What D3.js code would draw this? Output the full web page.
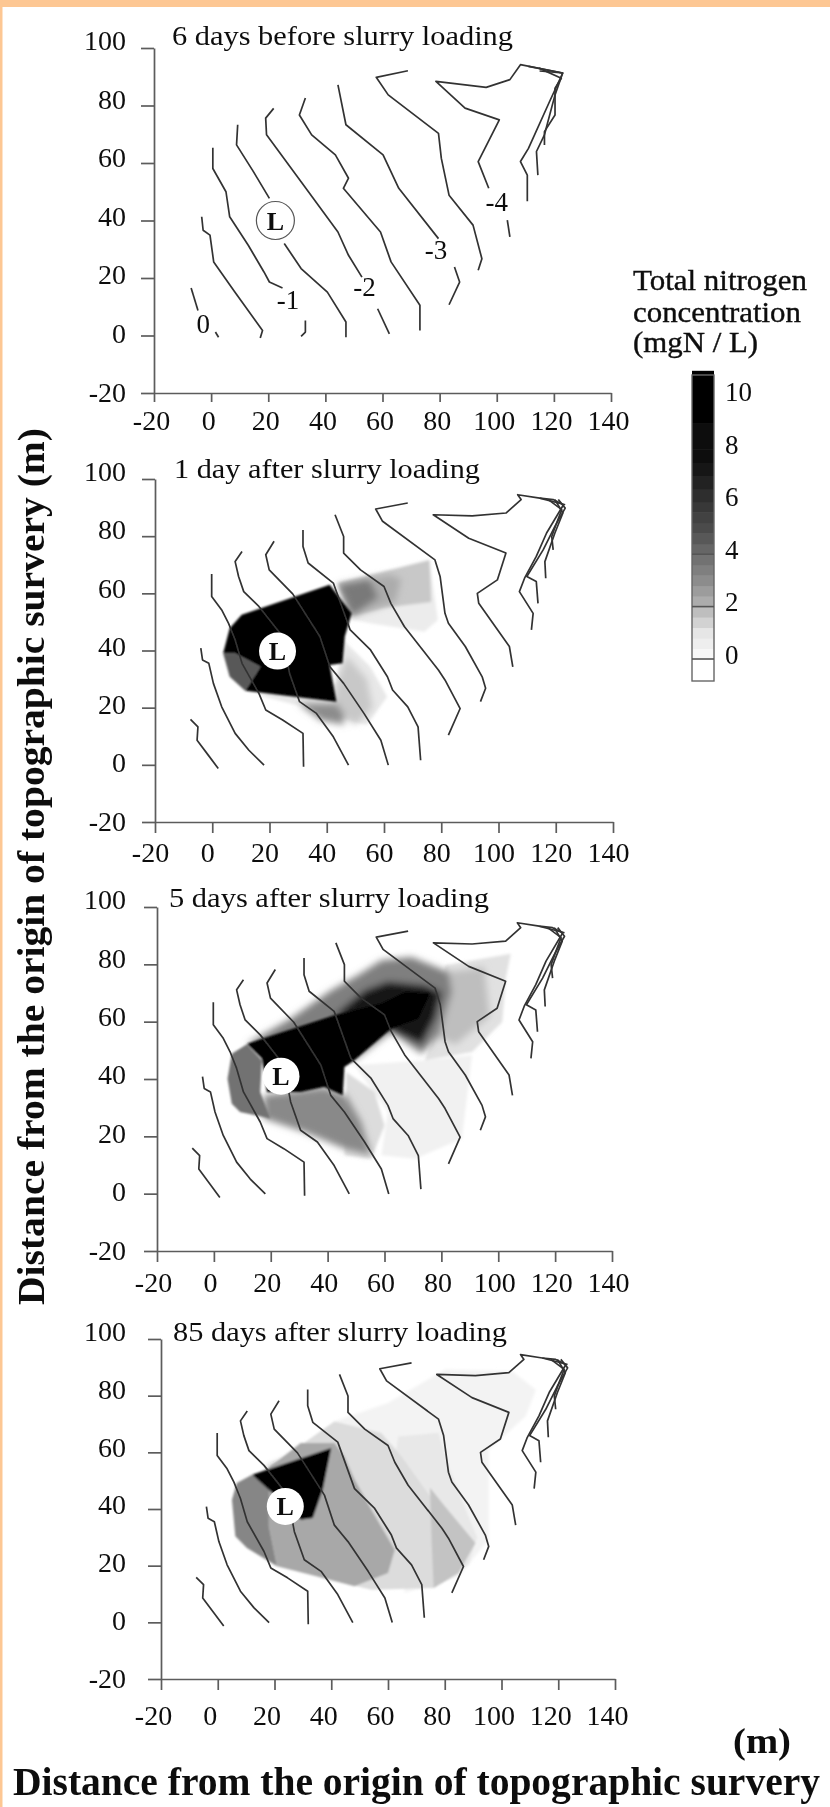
<!DOCTYPE html>
<html><head><meta charset="utf-8">
<script src="https://cdn.jsdelivr.net/npm/d3@7/dist/d3.min.js"></script>
<style>html,body{margin:0;padding:0;background:#fff}svg{display:block}text{font-family:"Liberation Serif",serif;fill:#111}</style>
</head><body><div id="c"></div>
<script>
const xTicks=[-20,0,20,40,60,80,100,120,140];
const yTicks=[-20,0,20,40,60,80,100];
const panelTitles=["6 days before slurry loading","1 day after slurry loading","5 days after slurry loading","85 days after slurry loading"];
const loadingPoint=[[22.5,40],[22.8,39.8],[23.6,41],[23.8,40.9]];
const topLabels=[["0",-2.8,4.1],["-1",26.9,12.2],["-2",53.7,16.9],["-3",78.7,29.7],["-4",100,46.5]];
const legendTitle=["Total nitrogen","concentration","(mgN / L)"];
const legendTicks=[0,2,4,6,8,10];
const legendLines=[0,2,4];
const colorValues=[0,1,2,3,4,5,6,8,10];
const colorGrays=["#fbfbfb","#e6e6e6","#b4b4b4","#8c8c8c","#6c6c6c","#4c4c4c","#333333","#0a0a0a","#000000"];
const legendSteps=[-1.6,0,0.4,0.8,1.2,1.6,2,2.4,2.8,3.2,3.6,4,4.4,4.8,5.2,5.6,6,6.5,7,7.5,8,9,10,11];

const contoursBefore=[
[[-7,16.5],[-4.6,8.7]],
[[1.5,1.2],[2.6,-0.6]],
[[-3.3,41.3],[-2.8,36.6],[-0.4,34.9],[0.9,25.6],[8.3,15.1],[18,1.7],[17.2,-0.9]],
[[0.6,65.3],[0.6,58.1],[5.2,50],[6.5,41.3],[13,31.4],[18.5,22.1],[20.4,18.6],[25,16.5]],
[[33,5.2],[33,1.2],[31.5,-0.3]],
[[9.3,73.3],[8.9,66.3],[14.8,57],[20.4,47.7]],
[[25.6,32],[31.5,23.3],[40.7,15.1],[47.2,4.7],[47.2,-0.6]],
[[21.9,79],[19.1,75.6],[19.4,69.8],[31.5,53.5],[44.4,36],[48.1,27.9],[52.8,20.3]],
[[58.3,9.3],[62.4,0.6]],
[[33,82.6],[30.9,76.7],[35.2,69.8],[43.5,62.8],[48.1,54.7],[46.3,51.2],[59.3,36],[63,25.6],[73.1,10.5],[73.1,1.7]],
[[44.4,87.2],[47.2,73.3],[60.2,62.8],[65.7,51.2],[79.6,33.7]],
[[85.2,23.8],[87,18.6],[83.3,10.7]],
[[68.9,92.1],[57.8,89.8],[62,83.7],[79.6,70.3],[80.6,61.6],[83.3,48.8],[91.7,38.4],[94.8,26.7],[93.5,22.7]],
[[123.1,91.3],[108.3,94.2],[104.6,89],[96.3,86.3],[78.7,88.4],[88.9,79.1],[100.9,75],[93.5,60.5],[97.2,51.2]],
[[103.7,40.1],[104.6,34.3]],
[[110.7,46.7],[110.7,55.8],[108.3,60.5],[111.1,65.1],[118.5,81.4],[123.1,91.3],[111.1,93.6]],
[[114.4,55.8],[113.9,64],[116.7,69.8],[120.4,83.7],[123.1,91.3],[115,92]],
[[116.7,66.3],[116.7,70.9],[120.4,76.7],[120.4,86],[122.6,89.5],[114.8,93]]
];
const contoursAfter=[
[[-7.6,15.9],[-5,13.3],[-5.3,8.6],[-1.4,3.4],[2.1,-1.3]],
[[-4,40.8],[-3.4,36.7],[-1.2,35.5],[0.4,28.5],[3.3,20.3],[8,11],[12.8,5.1],[18.1,-0.1]],
[[-0.2,66.8],[-0.2,58.9],[3.3,54.2],[5.7,49.5],[8,43.7],[10.4,35.5],[16.3,25],[18.7,19.2],[24.6,15.7],[31.7,11],[31.9,-0.7]],
[[10.4,74.6],[8,71.1],[9.2,65.9],[11,60.6],[16.3,55.4],[24.6,44.9],[27,32],[30.5,22.1],[36.4,18],[42.3,9.8],[47.6,-0.1]],
[[21.6,78.2],[18.7,73.5],[19.9,68.2],[28.1,59.8],[37.6,44.9],[41.1,34.3],[45.9,28.5],[53,18],[58.9,8.6],[61.5,-0.1]],
[[31.7,82.2],[31.7,76.4],[33.5,70.6],[42.3,63.6],[48.2,47.2],[55.3,40.2],[61.2,30.8],[63,26.2],[68.3,20.3],[71.9,13.3],[72.8,1.6]],
[[42.9,87.5],[45.9,79.9],[45.9,74.1],[51.8,68.2],[60,62.4],[62.4,56.5],[67.1,48.4],[79,33.2],[81.3,29.7],[86.6,19.7],[82.5,10.4]],
[[68.3,91.6],[57.1,89.5],[59.5,85.2],[77.8,71.7],[79.6,65.9],[81.3,53],[82.5,49.5],[88.4,41.4],[94.3,30.8],[95.5,26.8],[93.7,22.1]],
[[123.3,91],[114.4,93.3],[106.7,94.5],[107.9,92.8],[102.6,88.1],[90.8,87.1],[77.2,87.5],[89.6,79.3],[102.6,74.1],[99.6,64.7],[92.6,60],[93.1,56.5],[103.8,41.4],[105,34.3]],
[[111.5,47.2],[112.1,53],[107.3,60.6],[109.1,65.3],[113.2,72.9],[116.8,81.1],[122.7,91],[119.1,92.8],[114.4,93.3]],
[[113.8,56.5],[113.2,64.1],[109.9,65.9],[115.6,75.2],[119.7,83.4],[123.3,89.8],[120.9,92.8]],
[[116.5,65.3],[116.2,71.1],[119.7,81.1],[122.5,88.1],[119.7,92.8]],
[[119.1,75.2],[118.6,79.9],[120.3,84.6],[122.1,89.3],[117.4,92.8]]
];

const day1Base=[
[0.7,[[43.9,63.6],[57.6,67],[75.9,71.7],[78.8,50.7],[74.1,46.6],[55.2,49.5],[48.1,51]]],
[1.6,[[43.9,63.6],[57.6,67],[75.9,71.7],[76.5,57],[60,55],[48.7,52]]],
[0.9,[[45.7,43.7],[55.2,34.3],[61.1,23.8],[54,13.9],[31.6,20.3],[16.2,24.4],[43.4,28.5]]]
];
const day1Soft=[
[2.2,[[44,63],[62,66.5],[66,65],[64,57],[48.7,52]]],
[3.6,[[44,63],[55,65],[58,58.5],[48.7,52]]],
[1.6,[[47,38],[54,30],[56,20],[50,14],[42,20],[44,30]]],
[3,[[30,21.5],[43.4,21.5],[46,18],[46,14],[38,15.5]]]
];
const day1Hard=[
[4.6,[[3.8,39],[6.1,30.8],[11.5,25.9],[16.8,34.3],[7.9,39]]],
[10,[[41,63],[48.7,53],[46.3,44.9],[45.5,35.5],[41,34.9],[43.4,22.1],[11.5,25.9],[16.8,34.3],[7.9,39],[3.8,39],[6.1,47.8],[10.3,52.5]]]
];
const day5Base=[
[0.5,[[49.4,44.8],[74.2,46.5],[90.8,48.3],[87.2,19.2],[70.7,12.2],[58.9,13.4],[61.2,28.5]]],
[1.1,[[81.3,79.7],[104.4,83.7],[102.6,75],[101.4,59.9],[90.8,49.4],[74.2,46.5],[79,60]]],
[1.2,[[46.5,42.4],[56.5,35.5],[60,23.8],[55.3,12.2],[45.9,13.4],[46.5,34]]]
];
const day5Soft=[
[1.8,[[80,77],[95,79],[97,62],[85,52],[78,55]]],
[3.1,[[17.5,34.3],[38.8,37.2],[46.5,34.3],[51.8,25],[55.3,13.4],[45.9,15.7],[31.7,21.5],[17.5,26.2]]],
[3.4,[[26.9,61],[41.1,70.9],[50.6,76.2],[58.9,81.4],[69.5,82.6],[82.5,77.3],[83.7,70.3],[79,55.2],[73,48.8],[62.4,56.4],[49.4,46.5],[11.6,52.3]]],
[7.5,[[53,71],[61.2,74],[74.2,72.7],[80.1,70.3],[77.8,61],[73,52],[63.6,56.4],[56.5,59.9],[42.3,62.2]]]
];
const day5Hard=[
[3.8,[[6.3,48.8],[11.6,52.1],[16.9,46.5],[16.3,35.5],[19.9,26.2],[9.2,28.5],[6.3,31.4],[4.8,40.1]]],
[10,[[11.6,52.3],[42.3,62.2],[58.9,66.3],[67.1,70.3],[76,69.8],[71.9,61],[62.4,57.6],[49.4,46.5],[45.9,44.2],[45.3,34.3],[38.8,37.2],[30.5,35.5],[18.7,35.5],[16.9,47.1]]]
];
const day85Base=[
[0.4,[[60,77.4],[80.1,89.2],[103.8,88.6],[112.1,82.1],[108.5,72.7],[95.5,60.9],[95.5,29.2],[84.9,16.2],[65.9,10.4],[61.2,51.5],[41.1,70.9]]]
];
const day85Soft=[
[6.5,[[17.5,54],[29.5,59],[41,63],[43,49],[36,39],[33,35],[33,46]]]
];
const day85Hard=[
[0.9,[[63.6,65.6],[77.8,66.9],[81.3,55],[91.4,29.9],[88.4,20.5],[76.1,12.1],[65,18],[60,40]]],
[1.2,[[30.4,63.3],[41.1,70.9],[57.6,66.8],[64.7,58.6],[74.8,44.5],[84.9,18.6],[76,12.1],[54.1,11.5],[35.1,16.2]]],
[1.7,[[74.8,47.5],[80.1,40.9],[90.8,28],[84.9,17.4],[76.1,12.1],[75.4,28]]],
[2.3,[[17.4,53.9],[29.2,63.3],[41.1,63.3],[44.6,58.6],[48.2,50.4],[54.1,39.8],[62.4,25.6],[60,17.4],[48.2,12.7],[35.1,16.2],[20.9,19.8],[18,33.9]]],
[3.2,[[5,43.3],[6.7,49.2],[12.1,52.1],[18,47.5],[18,33.9],[20.9,19.8],[10.3,26.2],[6.2,30.4]]],
[10,[[12.1,52.1],[40,61.5],[37,46.8],[33.5,36.8],[29.3,36.2],[18,46.8]]]
];
const baseLayers=[[],day1Base,day5Base,day85Base];
const softLayers=[[],day1Soft,day5Soft,day85Soft];
const hardLayers=[[],day1Hard,day5Hard,day85Hard];
const panelContours=[contoursBefore,contoursAfter,contoursAfter,contoursAfter];

// page geometry
const W=830,H=1807;
const frames=[
 {l:154,r:611,t:48,b:393,xt:9,lab:37,dx:-3,title:172,titleEnd:513,tb:45},
 {l:155,r:613,t:479,b:822,xt:11,lab:40,dx:-5,title:174,titleEnd:480,tb:478},
 {l:157,r:612,t:907,b:1251,xt:11,lab:41,dx:-4,title:169,titleEnd:489,tb:907},
 {l:161,r:615,t:1339,b:1679,xt:11,lab:46,dx:-8,title:173,titleEnd:507,tb:1341}];
const ink="#5c5c5c";
const color=d3.scaleLinear().domain(colorValues).range(colorGrays).clamp(true);

const svg=d3.select("#c").append("svg").attr("width",W).attr("height",H);
const defs=svg.append("defs");
const addBlur=(id,s)=>defs.append("filter").attr("id",id).attr("x","-30%").attr("y","-30%").attr("width","160%").attr("height","160%").append("feGaussianBlur").attr("stdDeviation",s);
addBlur("soft",3.5);addBlur("edge",0.9);addBlur("wash",1.5);addBlur("page",0.55);

svg.append("rect").attr("width",W).attr("height",H).attr("fill","#fff");
svg.append("rect").attr("width",W).attr("height",7).attr("fill","#fdc793");
svg.append("rect").attr("width",2.5).attr("height",H).attr("fill","#fdc793");

const page=svg.append("g").attr("filter","url(#page)");

frames.forEach((f,i)=>{
  const x=d3.scaleLinear().domain([-20,140]).range([f.l,f.r]);
  const y=d3.scaleLinear().domain([-20,100]).range([f.b,f.t]);
  const g=page.append("g");
  const poly=d3.line().x(d=>x(d[0])).y(d=>y(d[1])).curve(d3.curveLinearClosed);
  const open=d3.line().x(d=>x(d[0])).y(d=>y(d[1]));

  g.append("g").attr("filter","url(#wash)").selectAll("path").data(baseLayers[i]).join("path")
    .attr("d",d=>poly(d[1])).attr("fill",d=>color(d[0]));
  g.append("g").attr("filter","url(#soft)").selectAll("path").data(softLayers[i]).join("path")
    .attr("d",d=>poly(d[1])).attr("fill",d=>color(d[0]));
  g.append("g").attr("filter","url(#edge)").selectAll("path").data(hardLayers[i]).join("path")
    .attr("d",d=>poly(d[1])).attr("fill",d=>color(d[0]));

  g.append("g").selectAll("path").data(panelContours[i]).join("path")
    .attr("d",open).attr("fill","none").attr("stroke","#333").attr("stroke-width",1.7)
    .attr("stroke-linejoin","round");

  const ay=g.append("g").attr("transform",`translate(${f.l},0)`)
    .call(d3.axisLeft(y).tickValues(yTicks).tickFormat(String).tickSize(13).tickSizeOuter(0).tickPadding(f.l-126-13));
  const ax=g.append("g").attr("transform",`translate(0,${f.b})`)
    .call(d3.axisBottom(x).tickValues(xTicks).tickFormat(String).tickSize(f.xt).tickSizeOuter(0).tickPadding(f.lab-f.xt-20));
  [ax,ay].forEach(a=>{
    a.selectAll("path,line").attr("stroke",ink).attr("stroke-width",1.7);
    a.selectAll("text").attr("font-size",28);
  });
  ax.selectAll("text").attr("dx",f.dx);
  ay.selectAll("text").attr("dy",d=>(0.25-d*0.0019)+"em");

  const lp=loadingPoint[i];
  g.append("circle").attr("cx",x(lp[0])).attr("cy",y(lp[1])).attr("r",i===0?19:18.5)
    .attr("fill","#fff").attr("stroke",i===0?"#555":"none").attr("stroke-width",1.2);
  g.append("text").attr("x",x(lp[0])).attr("y",y(lp[1])+9).attr("text-anchor","middle")
    .attr("font-size",26).attr("font-weight","bold").text("L");

  g.append("text").attr("x",f.title).attr("y",f.tb).attr("font-size",28)
    .attr("textLength",f.titleEnd-f.title).attr("lengthAdjust","spacingAndGlyphs").text(panelTitles[i]);

  if(i===0){
    g.append("g").selectAll("text").data(topLabels).join("text")
      .attr("x",d=>x(d[1])).attr("y",d=>y(d[2])+9).attr("text-anchor","middle")
      .attr("font-size",27).text(d=>d[0]);
  }
});

// legend
const ly=d3.scaleLinear().domain([0,10]).range([659,397]);
const leg=page.append("g");
legendTitle.forEach((t,i)=>leg.append("text").attr("x",633).attr("y",[290,322,352][i])
  .attr("font-size",29).attr("stroke","#111").attr("stroke-width",0.4)
  .attr("textLength",[174,168,125][i]).attr("lengthAdjust","spacingAndGlyphs").text(t));
leg.append("g").selectAll("rect").data(d3.pairs(legendSteps)).join("rect")
  .attr("x",692).attr("width",22).attr("y",d=>ly(d[1])).attr("height",d=>ly(d[0])-ly(d[1])+0.5)
  .attr("fill",d=>d[0]<0?"#fff":color(d[0]+(d[1]-d[0])/2));
leg.append("rect").attr("x",692).attr("y",375).attr("width",22).attr("height",306)
  .attr("fill","none").attr("stroke","#666").attr("stroke-width",1.4);
leg.append("g").selectAll("line").data(legendLines).join("line")
  .attr("x1",692).attr("x2",714).attr("y1",d=>ly(d)).attr("y2",d=>ly(d)).attr("stroke","#555").attr("stroke-width",1.6);
const lab=d3.scaleLinear().domain([0,10]).range([655,392]);
leg.append("g").selectAll("text").data(legendTicks).join("text")
  .attr("x",725).attr("y",d=>lab(d)+9).attr("font-size",27).text(d=>d);

// axis names
page.append("text").attr("transform","translate(44,1305) rotate(-90)").attr("font-size",38).attr("font-weight","bold")
  .attr("textLength",877).attr("lengthAdjust","spacingAndGlyphs").text("Distance from the origin of topographic survery (m)");
page.append("text").attr("x",13).attr("y",1795).attr("font-size",40).attr("font-weight","bold")
  .attr("textLength",807).attr("lengthAdjust","spacingAndGlyphs").text("Distance from the origin of topographic survery");
page.append("text").attr("x",733).attr("y",1753).attr("font-size",36).attr("font-weight","bold")
  .attr("textLength",58).attr("lengthAdjust","spacingAndGlyphs").text("(m)");
</script></body></html>
